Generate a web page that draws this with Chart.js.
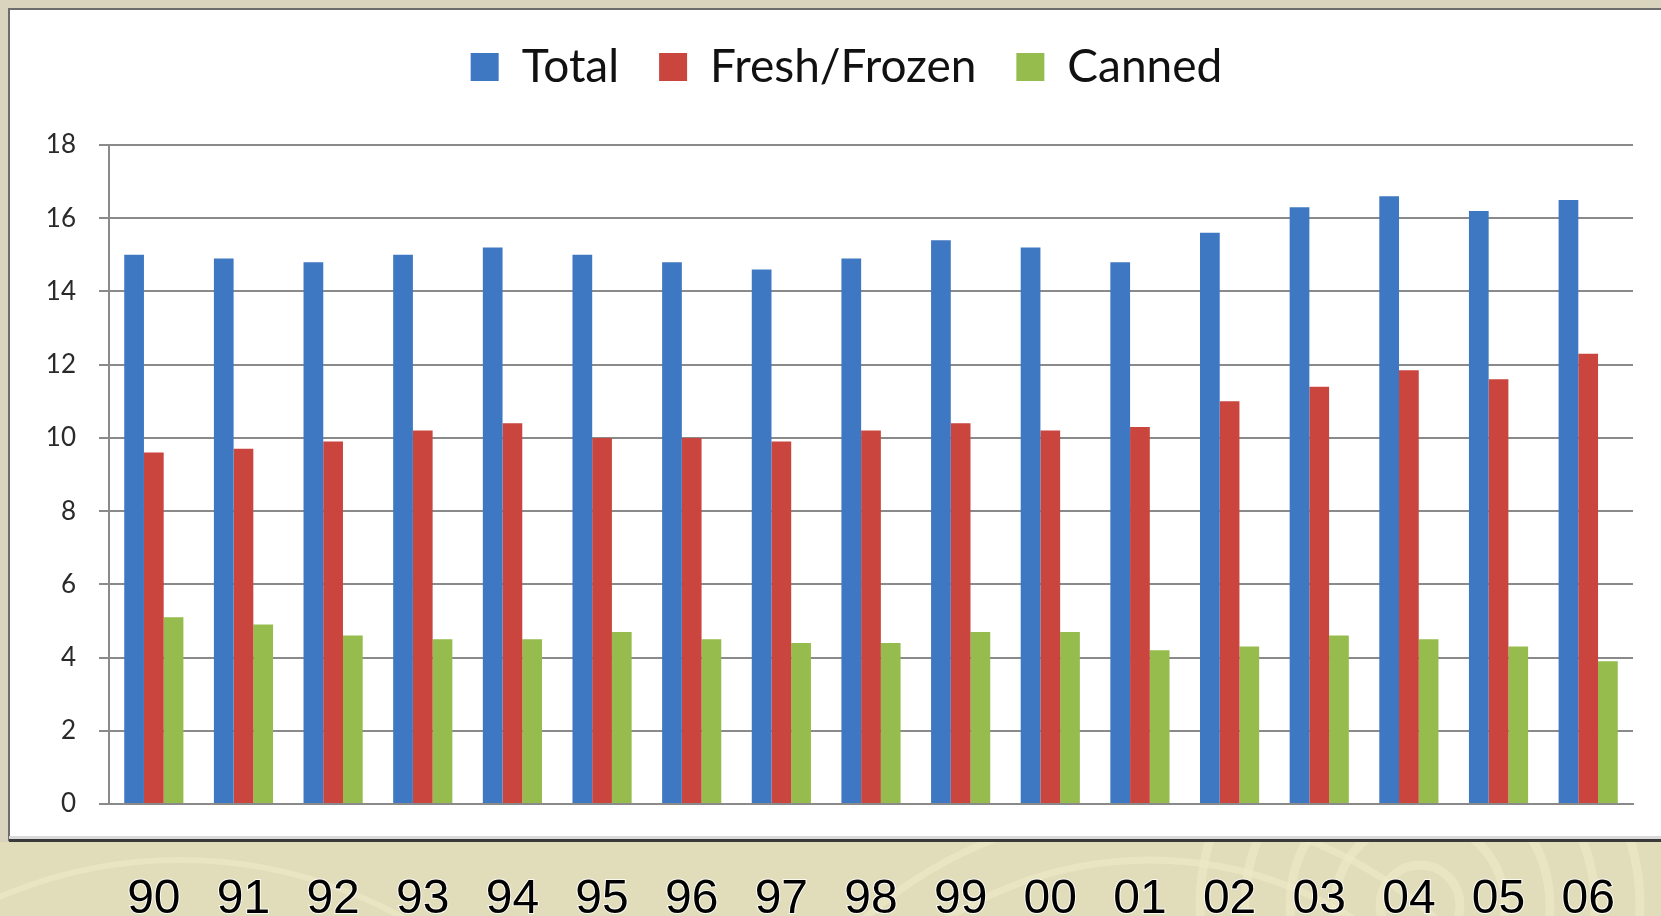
<!DOCTYPE html>
<html>
<head>
<meta charset="utf-8">
<script src="https://cdn.jsdelivr.net/npm/chart.js@4/dist/chart.umd.min.js"></script>
<style>
  html, body { margin: 0; padding: 0; background: #ddd8bd; }
  #wrap { position: relative; width: 1661px; height: 916px; }
  canvas { display: block; }
</style>
</head>
<body>
<div id="wrap"><canvas id="c" width="1661" height="916"></canvas></div>
<script>
// Per-capita seafood consumption by year (pounds)
const years = ['90','91','92','93','94','95','96','97','98','99','00','01','02','03','04','05','06'];
const totalValues  = [15.0, 14.9, 14.8, 15.0, 15.2, 15.0, 14.8, 14.6, 14.9, 15.4, 15.2, 14.8, 15.6, 16.3, 16.6, 16.2, 16.5];
const freshValues  = [9.6, 9.7, 9.9, 10.2, 10.4, 10.0, 10.0, 9.9, 10.2, 10.4, 10.2, 10.3, 11.0, 11.4, 11.85, 11.6, 12.3];
const cannedValues = [5.1, 4.9, 4.6, 4.5, 4.5, 4.7, 4.5, 4.4, 4.4, 4.7, 4.7, 4.2, 4.3, 4.6, 4.5, 4.3, 3.9];
const yTicks = [0, 2, 4, 6, 8, 10, 12, 14, 16, 18];

const seriesNames = ['Total', 'Fresh/Frozen', 'Canned'];
const seriesColors = ['#3f78c2', '#c9453e', '#95bc4c'];

// Slide backdrop: beige page, faint swirls, white chart panel with a frame
const backdrop = {
  id: 'backdrop',
  beforeDraw(chart) {
    const ctx = chart.ctx;
    const W = chart.width, H = chart.height;
    ctx.save();
    ctx.fillStyle = '#dad4bf';
    ctx.fillRect(0, 0, W, H);
    ctx.fillStyle = '#e1dcb9';
    ctx.fillRect(0, 842, W, H - 842);

    // faint swirl rings in the lower band
    ctx.beginPath();
    ctx.rect(0, 842, W, H - 842);
    ctx.clip();
    ctx.strokeStyle = 'rgba(238, 234, 198, 0.6)';
    ctx.lineWidth = 9;
    [40, 85, 130, 175, 220].forEach(r => {
      ctx.beginPath();
      ctx.arc(1420, 905, r, 0, Math.PI * 2);
      ctx.stroke();
    });
    ctx.lineWidth = 7;
    [380, 430].forEach(r => {
      ctx.beginPath();
      ctx.arc(1150, 1240, r, 0, Math.PI * 2);
      ctx.stroke();
    });
    ctx.lineWidth = 6;
    ctx.beginPath();
    ctx.arc(180, 1320, 460, 0, Math.PI * 2);
    ctx.stroke();
    ctx.restore();

    // white chart panel
    ctx.save();
    ctx.fillStyle = '#ffffff';
    ctx.fillRect(9, 9, W, 832);
    ctx.strokeStyle = '#6d6d6d';
    ctx.lineWidth = 2;
    ctx.beginPath();
    ctx.moveTo(W + 2, 9);
    ctx.lineTo(9, 9);
    ctx.lineTo(9, 841);
    ctx.stroke();
    ctx.fillStyle = '#d9d9d9';
    ctx.fillRect(9, 836, W, 3);
    ctx.fillStyle = '#3a3a3a';
    ctx.fillRect(9, 839, W, 3);
    ctx.restore();
  }
};

// Nudge the legend block right and up above the plot
const legendNudge = {
  id: 'legendNudge',
  afterLayout(chart) {
    const lg = chart.legend;
    if (!lg) return;
    lg.left += 30; lg.right += 30;
    lg.top -= 45; lg.bottom -= 45;
  }
};

const datasets = [totalValues, freshValues, cannedValues].map((vals, i) => ({
  label: seriesNames[i],
  data: vals,
  backgroundColor: seriesColors[i],
  borderWidth: 0,
  categoryPercentage: 0.66,
  barPercentage: 1.0
}));

new Chart(document.getElementById('c'), {
  type: 'bar',
  data: { labels: years, datasets },
  plugins: [backdrop, legendNudge],
  options: {
    responsive: false,
    animation: false,
    events: [],
    layout: { padding: { left: 0, right: 28, top: 49, bottom: 0 } },
    plugins: {
      tooltip: { enabled: false },
      legend: {
        position: 'top',
        labels: {
          boxWidth: 28,
          boxHeight: 28,
          padding: 40,
          color: '#111',
          font: { family: 'Lato', size: 46 }
        }
      }
    },
    scales: {
      x: {
        grid: { display: false, drawTicks: true, tickLength: 67 },
        border: { display: true, color: '#8a8a8a', width: 2 },
        ticks: {
          color: '#000',
          padding: 0,
          maxRotation: 0,
          autoSkip: false,
          font: { family: 'Liberation Sans', size: 48 },
          textStrokeColor: 'rgba(255,255,255,0.85)',
          textStrokeWidth: 2
        },
        afterFit(scale) { scale.height = 112; }
      },
      y: {
        min: 0,
        max: 18,
        afterBuildTicks(scale) { scale.ticks = yTicks.map(v => ({ value: v })); },
        grid: { color: '#8a8a8a', lineWidth: 2, tickLength: 10, drawTicks: true },
        border: { display: true, color: '#8a8a8a', width: 2 },
        ticks: {
          color: '#2a2a2a',
          padding: 23,
          font: { family: 'Lato', size: 26 }
        },
        afterFit(scale) { scale.width = 109; }
      }
    }
  }
});
</script>
</body>
</html>
